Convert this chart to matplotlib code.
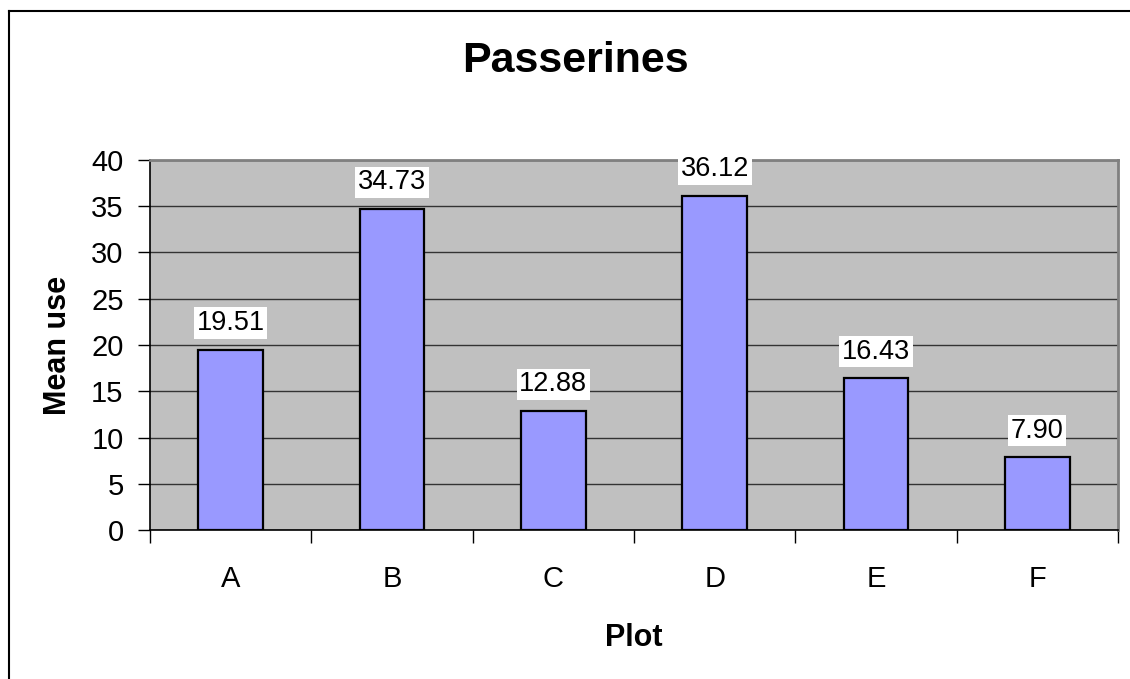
import matplotlib.pyplot as plt
from matplotlib.lines import Line2D

# ------------------------------------
# Data
# ------------------------------------

plots = ["A", "B", "C", "D", "E", "F"]
mean_use = [19.51, 34.73, 12.88, 36.12, 16.43, 7.90]
y_ticks = [0, 5, 10, 15, 20, 25, 30, 35, 40]

plt.rcParams["font.family"] = ["Liberation Sans", "DejaVu Sans"]

fig = plt.figure(figsize=(11.3, 6.79), dpi=100)
ax = fig.add_axes([0.1327, 0.2194, 0.8567, 0.545])

# outer chart frame: left and top edges
left_x = 8.5 / 1130
top_y = 1 - 10.5 / 679
fig.lines.append(Line2D([left_x, left_x], [-0.1, top_y], transform=fig.transFigure,
                        color="black", linewidth=1.5))
fig.lines.append(Line2D([left_x, 1.1], [top_y, top_y], transform=fig.transFigure,
                        color="black", linewidth=1.5))

ax.set_facecolor("#C0C0C0")

x = list(range(len(plots)))

ax.bar(
    x,
    mean_use,
    width=0.4,
    color="#9999FF",
    edgecolor="black",
    linewidth=1.6,
    zorder=3
)

for xi, v in zip(x, mean_use):
    ax.annotate(
        f"{v:.2f}",
        xy=(xi, v),
        xytext=(0, 19),
        textcoords="offset points",
        ha="center",
        va="center",
        fontsize=19.5,
        bbox=dict(facecolor="white", edgecolor="none", pad=2),
        zorder=4
    )

ax.set_xlim(-0.5, len(plots) - 0.5)
ax.set_ylim(0, 40)
ax.set_yticks(y_ticks)
ax.yaxis.grid(True, color="#333333", linewidth=1.0, zorder=1)
ax.set_axisbelow(True)

# category ticks sit between the bars, labels under the bar centres
ax.set_xticks([i - 0.5 for i in range(len(plots) + 1)])
ax.set_xticklabels([])
ax.set_xticks(x, minor=True)
ax.set_xticklabels(plots, minor=True, fontsize=21)
ax.tick_params(axis="x", which="minor", length=0, pad=25)
ax.tick_params(axis="x", which="major", length=9, width=1, direction="out")
ax.tick_params(axis="y", length=9, width=1, direction="out", labelsize=21, pad=10)

for side in ["top", "right"]:
    ax.spines[side].set_color("#808080")
    ax.spines[side].set_linewidth(2)
for side in ["left", "bottom"]:
    ax.spines[side].set_color("black")
    ax.spines[side].set_linewidth(1.2)

ax.set_xlabel("Plot", fontsize=22, fontweight="bold", labelpad=22)
ax.set_ylabel("Mean use", fontsize=22, fontweight="bold", labelpad=13)

fig.suptitle("Passerines", fontsize=31, fontweight="bold", x=0.509, y=1 - 72 / 679, va="baseline")

plt.savefig("out.png", dpi=100)
plt.close()
